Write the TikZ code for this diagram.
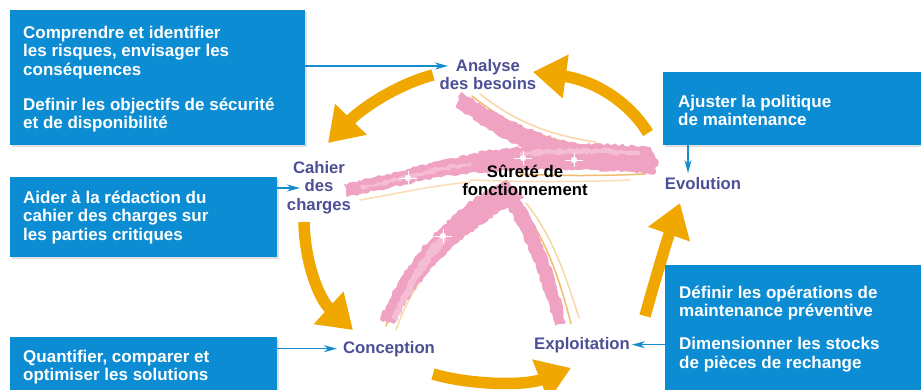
\documentclass[tikz,border=0pt]{standalone}
\usepackage{fontspec}
\setmainfont{Liberation Sans}
\usetikzlibrary{arrows.meta,shadows,decorations.pathmorphing}
\definecolor{boxblue}{RGB}{12,140,210}
\definecolor{lblue}{RGB}{78,80,150}
\definecolor{cyc}{RGB}{240,168,0}
\definecolor{pinkb}{RGB}{240,162,195}
\definecolor{pinkl}{RGB}{246,196,215}
\definecolor{streak}{RGB}{238,165,60}
\definecolor{conncol}{RGB}{20,140,205}
\begin{document}
\begin{tikzpicture}[x=1pt,y=-1pt,
 bluebox/.style={fill=boxblue, draw=none, anchor=north west, inner sep=0pt,
   drop shadow={shadow xshift=2pt,shadow yshift=-2pt,opacity=0.25}},
 boxtext/.style={text=white, anchor=north west, align=left, inner sep=0pt,
   font=\fontsize{17}{18.5}\selectfont\bfseries},
 stagelbl/.style={text=lblue, inner sep=0pt, align=center,
   font=\fontsize{16.7}{18.5}\selectfont\bfseries},
 conn/.style={draw=conncol, line width=1.3pt, -{Stealth[length=13pt,width=7pt,inset=4pt]}},
 cycarrow/.style={draw=cyc, line width=11.5pt, -{Triangle[length=33pt,width=42pt]}},
 brushfill/.style={fill=pinkb, decorate,
   decoration={random steps,segment length=3pt,amplitude=1.3pt}},
 brushlight/.style={fill=pinkl, opacity=0.8, decorate,
   decoration={random steps,segment length=3pt,amplitude=1.5pt}},
 streakline/.style={draw=streak, line width=1.5pt, opacity=0.75, line cap=round},
]
\pgfmathsetseed{7}
\useasboundingbox (0,0) rectangle (921,389);
\fill[white] (0,0) rectangle (921,389);

% ---- central brush strokes ----
% streaks under the strokes
\draw[streakline] (472,96) .. controls (500,118) and (532,138) .. (588,146);
\draw[streakline, draw=streak!60] (480,94) .. controls (508,116) and (540,134) .. (596,142);
\draw[streakline] (520,174) .. controls (560,176) and (600,176) .. (645,174);
\draw[streakline, draw=streak!50] (470,180) .. controls (520,182) and (580,182) .. (630,180);
\draw[streakline, draw=streak!50] (360,200) .. controls (400,193) and (430,186) .. (470,182);
\draw[streakline] (386,326) .. controls (398,290) and (414,266) .. (436,246);
\draw[streakline, draw=streak!55] (396,330) .. controls (408,296) and (424,272) .. (446,252);
\draw[streakline] (518,203) .. controls (545,235) and (560,280) .. (571,324);
\draw[streakline, draw=streak!60] (526,203) .. controls (553,236) and (567,280) .. (579,318);
% upper arm
\path[brushfill] (461,92) .. controls (490,112) and (530,134) .. (585,146)
   -- (575,166) .. controls (522,152) and (486,130) .. (456,106) -- cycle;
% right part
\path[brushfill] (478,152) .. controls (540,143) and (600,142) .. (650,147)
   -- (658,160) -- (655,174) .. controls (600,169) and (540,168) .. (485,172) -- cycle;
% left arm
\path[brushfill] (344,184) .. controls (400,173) and (440,158) .. (492,151)
   -- (496,171) .. controls (445,173) and (400,186) .. (347,197) -- cycle;
% lower-left arm
\path[brushfill] (506,180) .. controls (455,205) and (406,255) .. (380,320)
   -- (394,324) .. controls (420,270) and (470,226) .. (524,198) -- cycle;
\path[brushlight] (440,235) .. controls (420,258) and (405,285) .. (392,318)
   -- (398,320) .. controls (412,286) and (428,262) .. (448,240) -- cycle;
% lower-right arm
\path[brushfill] (499,194) .. controls (524,230) and (542,280) .. (555,326)
   -- (566,323) .. controls (556,278) and (540,228) .. (516,192) -- cycle;
% highlights
\path[brushlight] (360,186) .. controls (400,178) and (430,168) .. (470,162)
   -- (472,166) .. controls (430,172) and (400,182) .. (362,190) -- cycle;
\path[brushlight] (520,152) .. controls (560,148) and (600,148) .. (640,151)
   -- (640,155) .. controls (600,153) and (560,153) .. (520,156) -- cycle;
% sparkles
\foreach \sx/\sy in {408/178, 523/158, 574/160, 443/236} {
  \fill[white, opacity=0.9] (\sx,\sy) circle (3.2pt);
  \draw[white, line width=0.9pt] (\sx-9,\sy) -- (\sx+9,\sy) (\sx,\sy-7) -- (\sx,\sy+7);
}

% ---- cycle arrows ----
\draw[cycarrow] (433,75) .. controls (395,85) and (360,110) .. (328,143);
\draw[cycarrow] (304,222) .. controls (305,265) and (320,300) .. (353,330);
\draw[cycarrow] (433,374) .. controls (470,385) and (525,386) .. (571,368);
\draw[cycarrow] (645,316) .. controls (655,280) and (667,240) .. (680,203);
\draw[cycarrow] (648,133) .. controls (628,100) and (592,80) .. (533,72);

% ---- boxes ----
\node[bluebox, minimum width=295pt, minimum height=135pt] (b1) at (10,10) {};
\node[bluebox, minimum width=267pt, minimum height=80pt] (b2) at (10,177) {};
\node[bluebox, minimum width=267pt, minimum height=60pt] (b3) at (10,337) {};
\node[bluebox, minimum width=262pt, minimum height=73pt] (b4) at (663,72) {};
\node[bluebox, minimum width=260pt, minimum height=130pt] (b5) at (665,265) {};

\node[boxtext] (t1) at (23,24) {\rule{0pt}{14pt}Comprendre et identifier\\les risques, envisager les\\conséquences\\[16.5pt]Definir les objectifs de sécurité\\et de disponibilité};
\node[boxtext] (t2) at (23,189) {\rule{0pt}{14pt}Aider à la rédaction du\\cahier des charges sur\\les parties critiques};
\node[boxtext] (t3) at (23,348) {\rule{0pt}{14pt}Quantifier, comparer et\\optimiser les solutions};
\node[boxtext] (t4) at (678,93) {\rule{0pt}{14pt}Ajuster la politique\\de maintenance};
\node[boxtext] (t5) at (679,284) {\rule{0pt}{14pt}Définir les opérations de\\maintenance préventive\\[14.5pt]Dimensionner les stocks\\de pièces de rechange};

% ---- stage labels ----
\node[stagelbl, anchor=north] (ana) at (488,57) {\rule{0pt}{14pt}Analyse\\des besoins};
\node[stagelbl, anchor=north] (cdc) at (319,159) {\rule{0pt}{14pt}Cahier\\des\\charges};
\node[stagelbl, anchor=base] (con) at (389,353) {Conception};
\node[stagelbl, anchor=base] (exp) at (582,349) {Exploitation};
\node[stagelbl, anchor=base] (evo) at (703,189) {Evolution};
\node[text=black, align=center, inner sep=0pt, anchor=north,
  font=\fontsize{16.7}{18}\selectfont\bfseries] (sdf) at (525,163) {\rule{0pt}{14pt}Sûreté de\\fonctionnement};

% ---- connectors ----
\coordinate (c1) at (448,66);
\coordinate (c2) at (300,188);
\coordinate (c4) at (688,173);
\draw[conn] (b1.east |- c1) -- (c1);
\draw[conn] (b2.east |- c2) -- (c2);
\draw[conn] (b3.east |- con.west) -- ([xshift=-6pt]con.west);
\draw[conn] (b4.south -| c4) -- (c4);
\draw[conn] (b5.west |- exp.east) -- ([xshift=2pt]exp.east);
\end{tikzpicture}
\end{document}
